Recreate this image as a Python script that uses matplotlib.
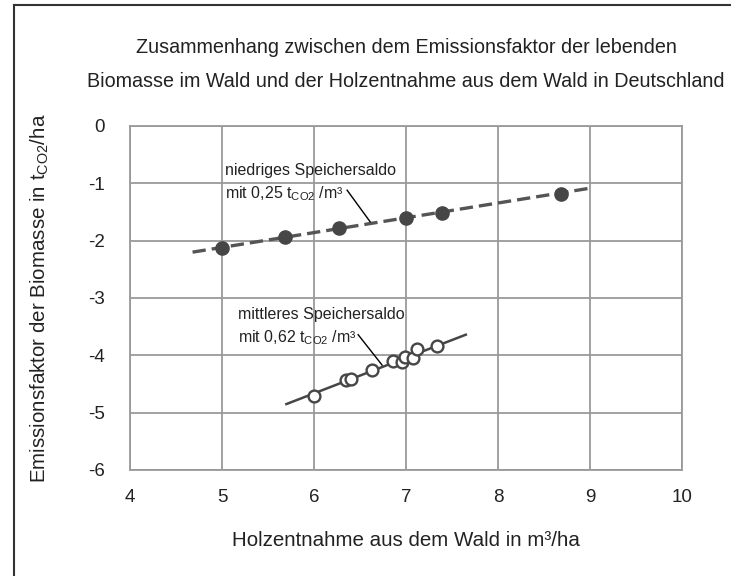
import matplotlib
matplotlib.use("Agg")
import matplotlib.pyplot as plt
from matplotlib.lines import Line2D

plt.rcParams['font.family'] = ['Liberation Sans', 'DejaVu Sans']
plt.rcParams['mathtext.default'] = 'regular'
plt.rcParams['axes.unicode_minus'] = False

# Data
low_x = [5.0, 5.68, 6.27, 7.0, 7.39, 8.69]
low_y = [-2.12, -1.94, -1.78, -1.60, -1.51, -1.18]
low_fit_x = [4.68, 8.98]
low_fit_y = [-2.20, -1.09]

mid_x = [6.0, 6.35, 6.40, 6.63, 6.86, 6.96, 6.99, 7.08, 7.12, 7.34]
mid_y = [-4.71, -4.43, -4.41, -4.26, -4.10, -4.12, -4.03, -4.04, -3.89, -3.84]
mid_fit_x = [5.70, 7.65]
mid_fit_y = [-4.85, -3.64]

x_ticks = [4, 5, 6, 7, 8, 9, 10]
y_ticks = [0, -1, -2, -3, -4, -5, -6]

title = ("Zusammenhang zwischen dem Emissionsfaktor der lebenden\n"
         "Biomasse im Wald und der Holzentnahme aus dem Wald in Deutschland")
xlabel = "Holzentnahme aus dem Wald in m³/ha"
ylabel = "Emissionsfaktor der Biomasse in t$_{CO2}$/ha"
ann_low = "niedriges Speichersaldo\nmit 0,25 t$_{CO2}$ /m³"
ann_mid = "mittleres Speichersaldo\nmit 0,62 t$_{CO2}$ /m³"

fig = plt.figure(figsize=(7.31, 5.76), dpi=100)
ax = fig.add_axes([130/731, 1-470/576, (682-130)/731, (470-126)/576])

grid_c = '#9a9a9a'
ax.set_xlim(4, 10)
ax.set_ylim(-6, 0)
ax.set_xticks(x_ticks)
ax.set_yticks(y_ticks)
ax.grid(True, color=grid_c, linewidth=1.3)
ax.set_axisbelow(True)
for s in ax.spines.values():
    s.set_color(grid_c)
    s.set_linewidth(1.3)
ax.tick_params(length=0, labelsize=13.5, colors='#222222')
ax.tick_params(axis='y', pad=18)
ax.tick_params(axis='x', pad=14)

dark = '#464646'
ax.plot(low_fit_x, low_fit_y, linestyle=(0, (4, 1.8)), color='#555555', linewidth=2.4, zorder=2)
ax.plot(low_x, low_y, 'o', color=dark, markersize=9.5, zorder=3)

ax.plot(mid_fit_x, mid_fit_y, '-', color=dark, linewidth=1.8, zorder=2)
ax.plot(mid_x, mid_y, 'o', markerfacecolor='white', markeredgecolor=dark,
        markeredgewidth=1.7, markersize=8.5, zorder=3)

ax.text(5.03, -1.0, ann_low, fontsize=11.5, va='center', ha='left',
        linespacing=1.45, color='#222222')
ax.plot([6.36, 6.61], [-1.12, -1.67], color='black', linewidth=1.0)

ax.text(5.17, -3.51, ann_mid, fontsize=11.5, va='center', ha='left',
        linespacing=1.45, color='#222222')
ax.plot([6.48, 6.74], [-3.64, -4.17], color='black', linewidth=1.0)

fig.text(406/731, 1-64.5/576, title, ha='center', va='center', fontsize=14.2,
         linespacing=2.0, color='#222222')
fig.text(406/731, 1-541/576, xlabel, ha='center', va='center', fontsize=14.8,
         color='#222222')
fig.text(40/731, 1-298/576, ylabel, ha='center', va='center', rotation=90,
         fontsize=14.8, color='#222222')

# partial frame (left and top) as in the reference
fig.add_artist(Line2D([14/731, 14/731], [0, 1-5/576], transform=fig.transFigure,
                      color='#333333', linewidth=1.5))
fig.add_artist(Line2D([14/731, 1], [1-5/576, 1-5/576], transform=fig.transFigure,
                      color='#333333', linewidth=1.5))

fig.savefig('out.png', dpi=100)
